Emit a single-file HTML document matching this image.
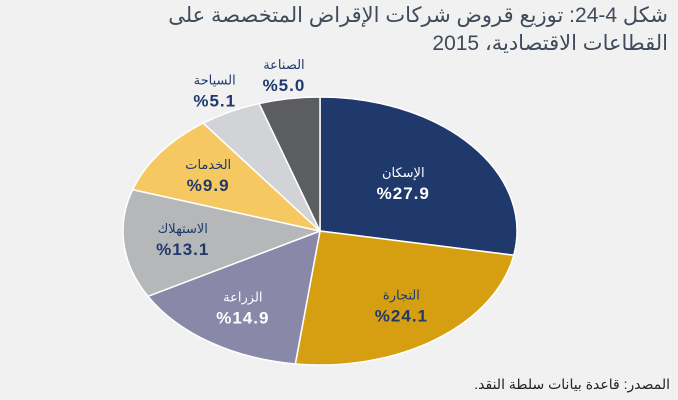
<!DOCTYPE html>
<html><head><meta charset="utf-8"><style>
body{margin:0;background:#f1f1f1;}
#wrap{position:relative;width:678px;height:400px;background:#f1f1f1;font-family:"Liberation Sans","DejaVu Sans",sans-serif;direction:rtl;}
.title{position:absolute;right:10px;top:2px;font-size:21px;line-height:28px;color:#3f4a5a;text-align:right;}
.src{position:absolute;right:8px;top:376px;font-size:14px;color:#222;}
</style></head><body>
<div id="wrap">
<div class="title">شكل 4-24: توزيع قروض شركات الإقراض المتخصصة على<br>القطاعات الاقتصادية، 2015</div>
<svg id="pie" width="678" height="400" style="position:absolute;left:0;top:0"></svg>
<div class="src">المصدر: قاعدة بيانات سلطة النقد.</div>
</div>
<script>
const categories=["الإسكان","التجارة","الزراعة","الاستهلاك","الخدمات","السياحة","الصناعة"];
const values=[27.9,24.1,14.9,13.1,9.9,5.1,5.0];
const colors=["#1f396d","#d69f12","#8a88a9","#b6b7b9","#f6c862","#d2d3d6","#5c5d61"];
const textColors=["#ffffff","#1f396d","#ffffff","#1f396d","#1f396d","#1f396d","#1f396d"];
const svg=document.getElementById('pie');
const NS="http://www.w3.org/2000/svg";
const cx=320,cy=231,rx=197,ry=134;
const total=values.reduce((a,b)=>a+b,0);
function pt(a,f){return [cx+rx*f*Math.sin(a),cy-ry*f*Math.cos(a)];}
let acc=0;
values.forEach((v,i)=>{
  const a0=acc/total*2*Math.PI; acc+=v; const a1=acc/total*2*Math.PI;
  const p0=pt(a0,1),p1=pt(a1,1);
  const large=(a1-a0)>Math.PI?1:0;
  const path=document.createElementNS(NS,'path');
  path.setAttribute('d',`M${cx},${cy} L${p0[0]},${p0[1]} A${rx},${ry} 0 ${large} 1 ${p1[0]},${p1[1]} Z`);
  path.setAttribute('fill',colors[i]);path.setAttribute('stroke','#ffffff');path.setAttribute('stroke-width','1.5');
  
  
  svg.appendChild(path);
  const am=(a0+a1)/2;
  const outside=v<6;
  const f=outside?1.17:(v>25?0.55:0.7);
  const lp=pt(am,f);
  const col=outside?"#1f396d":textColors[i];
  const t1=document.createElementNS(NS,'text');
  t1.setAttribute('x',lp[0]);t1.setAttribute('y',lp[1]-7);t1.setAttribute('text-anchor','middle');
  t1.setAttribute('font-size','13');t1.setAttribute('fill',col);
  t1.setAttribute('font-family','"Liberation Sans","DejaVu Sans",sans-serif');
  t1.textContent=categories[i];
  
  
  svg.appendChild(t1);
  const t2=document.createElementNS(NS,'text');
  t2.setAttribute('x',lp[0]);t2.setAttribute('y',lp[1]+15);t2.setAttribute('text-anchor','middle');
  t2.setAttribute('font-size','17');t2.setAttribute('fill',col);t2.setAttribute('direction','ltr');
  t2.setAttribute('font-weight','bold');
  t2.setAttribute('font-family','"Liberation Sans","DejaVu Sans",sans-serif');t2.setAttribute('letter-spacing','1');
  t2.textContent='%'+v.toFixed(1);
  
  
  svg.appendChild(t2);
});
</script>
</body></html>
